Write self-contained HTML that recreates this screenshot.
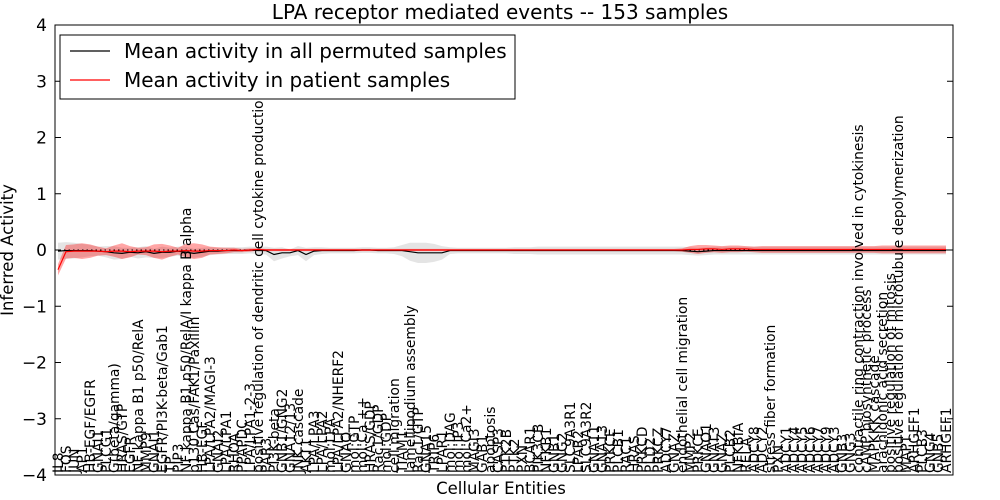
<!DOCTYPE html>
<html><head><meta charset="utf-8"><style>
body{margin:0;background:#fff;}
svg{display:block;font-family:"DejaVu Sans","Liberation Sans",sans-serif;}
</style></head><body>
<svg id="chart" width="1000" height="500" xmlns="http://www.w3.org/2000/svg">
<rect width="1000" height="500" fill="#fff"/>
<text x="500" y="19" text-anchor="middle" font-size="20">LPA receptor mediated events -- 153 samples</text>
<g id="bands"></g><g id="lines"></g><g id="axes"></g><g id="xlabels"></g>
<text x="501" y="494" text-anchor="middle" font-size="16.5">Cellular Entities</text>
<text transform="translate(13,250) rotate(-90)" text-anchor="middle" font-size="16.5">Inferred Activity</text>
<g>
<rect x="60" y="35" width="455" height="64" fill="#fff" stroke="#000" stroke-width="1"/>
<line x1="70" y1="51" x2="110" y2="51" stroke="#000" stroke-width="1.3"/>
<text x="124" y="58" font-size="20">Mean activity in all permuted samples</text>
<line x1="70" y1="80" x2="110" y2="80" stroke="#f00" stroke-width="1.3"/>
<text x="124" y="87" font-size="20">Mean activity in patient samples</text>
</g>
</svg>
<script>
const labels=["IL8","FOS","JUN","AP1","HB-EGF/EGFR","GNAI1","PLCG1","G(beta/gamma)","HRAS/GTP","EGFR","NF kappa B1 p50/RelA","MMP9","GNAI1","EGFR/PI3K-beta/Gab1","TP","PIP3","NF kappa B1 p50/RelA/I kappa B alpha","p130 Cas/FAK1/Paxillin","HB-EGF","LPA/LPA2/MAGI-3","GNAI2","LPA/LPA1","RHOA","PPAPDC","LPA/LPA1-2-3","positive regulation of dendritic cell cytokine production","PAR3","PI3K-beta","GNB1/GNG2","GNA12/13","JNK cascade","AKT1","LPA/LPA3","LPA/LPA2","mol:LPA","LPA/LPA2/NHERF2","GNAQ","mol:GTP","mol:Ca ++","HRAS/GDP","Rac1/GDP","mol:GDP","cell migration","TIAM1","lamellipodium assembly","Rac1/GTP","GNA15","TRIP6","LPAR1","mol:DAG","mol:IP3","mol:Ca2+","MAGI3","GAB1","apoptosis","CASP3","PTK2B","PTK2","PXN","BCAR1","PIK3CB","NFKB1","GNB1","GNG2","SLC9A3R1","LPAR2","SLC9A3R2","GNA11","GNA13","PRKCE","PLCB1","RAC1","HRAS","PRKCD","PLD2","PRKCZ","ADCY7","GNAZ","endothelial cell migration","MMP2","PRKCE","GNAO1","GNAT3","GNAZ","PLCB2","NFKBIA","RELA","ADCY8","ADCY2","stress fiber formation","PXN","ADCY1","ADCY4","ADCY5","ADCY6","ADCY7","ADCY9","ADCY3","GNB3","GNG3","contractile ring contraction involved in cytokinesis","cAMP biosynthetic process","MAPKKK cascade","arachidonic acid secretion","positive regulation of mitosis","positive regulation of microtubule depolymerization","MAPT","ARHGEF1","PLCB3","GNG4","GNB5","ARHGEF1"];
const patient=[-0.35,-0.03,-0.02,-0.02,-0.02,-0.02,-0.03,-0.02,-0.02,-0.03,-0.02,-0.02,-0.02,-0.03,-0.02,-0.02,-0.01,-0.02,-0.02,-0.01,-0.01,-0.01,0,-0.01,0,0.01,0,0,0,0,0,0,0,0,0,0,0,0,0,0,0,0,0,0,0,0,0,0,0,0,0,0,0,0,0,0,0,0,0,0,0,0,0,0,0,0,0,0,0,0,0,0,0,0,0,0,0,0,0,0.01,0.01,0.02,0.02,0.01,0.02,0.02,0.02,0.01,0.01,0.01,0.01,0.01,0.01,0.01,0.01,0.01,0.01,0.01,0.01,0.01,0.01,0.01,0.01,0.01,0.01,0.01,0.01,0.01,0.01,0.01,0.01,0.01];
const patientSpread=[0.1,0.12,0.12,0.14,0.12,0.08,0.06,0.1,0.14,0.1,0.06,0.07,0.12,0.14,0.1,0.06,0.12,0.14,0.12,0.07,0.06,0.05,0.04,0.03,0.03,0.02,0.02,0.02,0.02,0.02,0.02,0.02,0.02,0.02,0.02,0.02,0.02,0.02,0.02,0.02,0.02,0.02,0.02,0.02,0.02,0.02,0.02,0.02,0.02,0.02,0.02,0.02,0.02,0.02,0.02,0.02,0.02,0.02,0.02,0.02,0.02,0.02,0.02,0.02,0.02,0.02,0.02,0.02,0.02,0.02,0.02,0.02,0.02,0.02,0.02,0.02,0.02,0.02,0.03,0.06,0.08,0.07,0.06,0.06,0.06,0.06,0.05,0.05,0.06,0.06,0.06,0.06,0.06,0.06,0.06,0.06,0.06,0.06,0.06,0.06,0.06,0.06,0.06,0.07,0.07,0.07,0.07,0.07,0.07,0.07,0.07,0.07];
const permuted=[-0.02,-0.01,-0.01,-0.01,-0.01,-0.02,-0.03,-0.05,-0.06,-0.04,-0.05,-0.03,-0.06,-0.04,-0.04,-0.02,-0.04,-0.06,-0.04,-0.02,-0.02,-0.01,-0.01,-0.01,0,-0.01,-0.01,-0.08,-0.05,-0.05,-0.01,-0.08,-0.02,-0.01,-0.01,-0.01,-0.01,-0.01,0,0,-0.01,-0.01,-0.01,-0.01,-0.03,-0.05,-0.05,-0.05,-0.05,-0.01,-0.01,-0.01,-0.01,-0.01,-0.01,-0.01,-0.01,-0.01,-0.01,-0.01,-0.01,-0.01,-0.01,-0.01,-0.01,-0.01,-0.01,-0.01,-0.01,-0.01,-0.01,-0.01,-0.01,-0.01,-0.01,-0.01,-0.01,-0.01,-0.01,-0.02,-0.03,-0.02,-0.01,-0.01,-0.01,-0.01,-0.01,-0.01,-0.01,-0.01,-0.01,-0.01,-0.01,-0.01,-0.01,-0.01,-0.01,-0.01,-0.01,-0.01,-0.01,-0.01,-0.01,-0.01,-0.01,-0.01,-0.01,-0.01,-0.01,-0.01,-0.01,-0.01];
const permutedSpread=[0.15,0.15,0.14,0.12,0.1,0.08,0.1,0.12,0.1,0.08,0.1,0.1,0.08,0.1,0.08,0.08,0.1,0.08,0.08,0.07,0.06,0.06,0.06,0.06,0.06,0.06,0.07,0.12,0.1,0.06,0.08,0.12,0.07,0.06,0.05,0.05,0.05,0.05,0.05,0.05,0.05,0.05,0.06,0.1,0.16,0.18,0.18,0.16,0.12,0.06,0.05,0.05,0.05,0.05,0.05,0.05,0.05,0.06,0.06,0.06,0.07,0.07,0.07,0.07,0.07,0.07,0.07,0.07,0.07,0.07,0.07,0.07,0.07,0.07,0.07,0.07,0.07,0.07,0.07,0.07,0.07,0.07,0.07,0.07,0.07,0.07,0.07,0.07,0.07,0.07,0.07,0.07,0.07,0.07,0.07,0.07,0.07,0.07,0.07,0.07,0.07,0.07,0.07,0.07,0.07,0.07,0.07,0.07,0.07,0.07,0.07,0.07];
const yTicks=[-4,-3,-2,-1,0,1,2,3,4];
const NS="http://www.w3.org/2000/svg";
const L=55,R=953,T=25,B=475;
const n=labels.length;
function xs(i){return 58+i*(946-58)/(n-1);}
function ys(v){return T+(4-v)*(B-T)/8;}
function mk(tag,attrs,parent){const e=document.createElementNS(NS,tag);for(const k in attrs)e.setAttribute(k,attrs[k]);parent.appendChild(e);return e;}
const bands=document.getElementById('bands'),lines=document.getElementById('lines'),axes=document.getElementById('axes'),xl=document.getElementById('xlabels');
function band(mean,spread,fill,op){let up=[],dn=[];for(let i=0;i<n;i++){up.push(xs(i)+','+ys(mean[i]+spread[i]));dn.unshift(xs(i)+','+ys(mean[i]-spread[i]));}return mk('polygon',{points:up.concat(dn).join(' '),fill:fill,'fill-opacity':op,stroke:'none'},bands);}
const gb=band(permuted,permutedSpread,'#bbb',0.4);


const rb=band(patient,patientSpread,'#f00',0.35);


const z=mk('line',{x1:L,x2:R,y1:ys(0),y2:ys(0),stroke:'#000','stroke-dasharray':'1.5,3','stroke-width':1},lines);


function line(arr,color){return mk('polyline',{points:arr.map((v,i)=>xs(i)+','+ys(v)).join(' '),fill:'none',stroke:color,'stroke-width':1.2},lines);}
const pl=line(permuted,'#000');


const rl=line(patient,'#f00');


const frame=mk('rect',{x:L,y:T,width:R-L,height:B-T,fill:'none',stroke:'#000','stroke-width':1},axes);


yTicks.forEach(t=>{const y=ys(t);
mk('line',{x1:L,x2:L+6,y1:y,y2:y,stroke:'#000'},axes);
mk('line',{x1:R-6,x2:R,y1:y,y2:y,stroke:'#000'},axes);
const tx=mk('text',{x:L-8,y:y+6,'text-anchor':'end','font-size':17},axes);
tx.textContent=(t<0?'\u2212':'')+Math.abs(t);

});
labels.forEach((lb,i)=>{const x=xs(i);
const tx=mk('text',{transform:'translate('+(x+5)+','+(B-2)+') rotate(-90)','font-size':13.8},xl);
tx.textContent=lb;

});
</script>
</body></html>
